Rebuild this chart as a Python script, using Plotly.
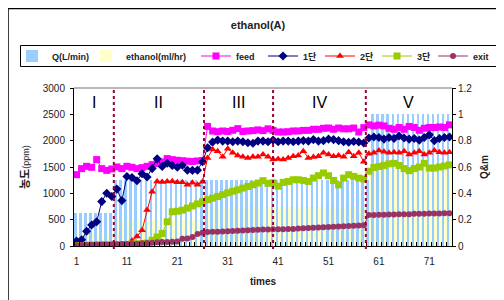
import plotly.graph_objects as go

# ---------------- data ----------------
times = list(range(1, 76))

q_lpm = [0.25, 0.25, 0.25, 0.25, 0.25, 0.25, 0.25, 0.25,
         0.5, 0.5, 0.5, 0.5, 0.5, 0.5, 0.5, 0.5, 0.5, 0.5,
         0.5, 0.5, 0.5, 0.5, 0.5, 0.5, 0.5, 0.5, 0.5, 0.5,
         0.5, 0.5, 0.5, 0.5, 0.5, 0.5, 0.5, 0.5, 0.5, 0.5,
         0.5, 0.5, 0.5, 0.5, 0.5, 0.5, 0.5, 0.5, 0.5, 0.5,
         0.5, 0.5, 0.5, 0.5, 0.5, 0.5, 0.5, 0.5, 0.5, 0.5, 0.5,
         1.0, 1.0, 1.0, 1.0, 1.0, 1.0, 1.0, 1.0, 1.0, 1.0,
         1.0, 1.0, 1.0, 1.0, 1.0, 1.0]

ethanol_mlhr = [0.1, 0.1, 0.1, 0.1, 0.1, 0.1, 0.1, 0.1,
                0.2, 0.2, 0.2, 0.2, 0.2, 0.2, 0.2, 0.2, 0.2, 0.2,
                0.2, 0.2, 0.2, 0.2, 0.2, 0.2, 0.2, 0.2,
                0.3, 0.3, 0.3, 0.3, 0.3, 0.3, 0.3, 0.3, 0.3, 0.3,
                0.3, 0.3, 0.3, 0.3, 0.3, 0.3, 0.3, 0.3, 0.3, 0.3,
                0.3, 0.3, 0.3, 0.3, 0.3, 0.3, 0.3, 0.3, 0.3, 0.3,
                0.3, 0.3,
                0.6, 0.6, 0.6, 0.6, 0.6, 0.6, 0.6, 0.6, 0.6, 0.6,
                0.6, 0.6, 0.6, 0.6, 0.6, 0.6, 0.6]

feed = [1354, 1469, 1513, 1494, 1641, 1469, 1436, 1463, 1501, 1469,
        1513, 1494, 1469, 1488, 1513, 1545, 1565, 1597, 1660, 1640,
        1628, 1620, 1610, 1605, 1615, 1625, 2270, 2184, 2171, 2184,
        2175, 2197, 2229, 2175, 2184, 2190, 2205, 2190, 2225, 2195,
        2165, 2165, 2170, 2184, 2184, 2195, 2195, 2216, 2216, 2235,
        2240, 2216, 2240, 2225, 2225, 2240, 2165, 2248, 2300, 2280,
        2295, 2280, 2235, 2216, 2250, 2216, 2270, 2250, 2197, 2235,
        2250, 2250, 2260, 2250, 2300]

stage1 = [96, 120, 280, 400, 460, 843, 1003, 940, 1080, 862,
          1320, 1300, 1240, 1373, 1310, 1470, 1655, 1510, 1570, 1530,
          1494, 1532, 1440, 1436, 1440, 1600, 1865, 1973, 2011, 1992,
          1992, 1980, 1992, 1980, 1960, 1950, 1992, 1992, 1980, 2011,
          1980, 1992, 1992, 1980, 1992, 2000, 1992, 2020, 1992, 2000,
          2030, 2020, 2000, 1980, 1970, 1985, 1975, 1955, 2050, 2070,
          2060, 2030, 2060, 2040, 2090, 2050, 2030, 2040, 2010, 2060,
          2110, 2000, 2040, 2060, 2070]

stage2 = [10, 15, 20, 20, 25, 20, 15, 20, 25, 20,
          30, 100, 180, 300, 684, 1030, 1226, 1215, 1226, 1230,
          1210, 1210, 1162, 1200, 1162, 1220, 1673, 1833, 1800, 1693,
          1846, 1770, 1718, 1693, 1673, 1693, 1693, 1737, 1693, 1641,
          1654, 1641, 1673, 1705, 1718, 1800, 1673, 1690, 1705, 1769,
          1737, 1705, 1718, 1693, 1782, 1705, 1769, 1600, 1750, 1769,
          1813, 1790, 1769, 1780, 1769, 1800, 1737, 1769, 1800, 1737,
          1769, 1813, 1780, 1769, 1780]

stage3 = [10, 10, 15, 15, 20, 20, 20, 25, 25, 25,
          30, 35, 40, 45, 57, 109, 173, 237, 460, 650,
          660, 680, 720, 760, 800, 840, 880, 907, 940, 975,
          1010, 1040, 1067, 1099, 1130, 1162, 1195, 1240, 1190, 1200,
          1135, 1207, 1226, 1258, 1258, 1245, 1226, 1290, 1335, 1386,
          1335, 1245, 1160, 1290, 1354, 1322, 1290, 1271, 1420, 1490,
          1510, 1530, 1560, 1570, 1530, 1470, 1430, 1470, 1500, 1570,
          1480, 1480, 1500, 1520, 1540]

exit_ppm = [15, 18, 20, 22, 25, 28, 30, 30, 35, 38,
            40, 42, 45, 50, 55, 62, 70, 77, 77, 80,
            85, 140, 141, 170, 230, 250, 265, 270, 270, 275,
            280, 285, 290, 295, 300, 305, 310, 315, 315, 320,
            320, 320, 325, 325, 330, 335, 340, 345, 350, 355,
            360, 365, 370, 375, 380, 385, 390, 395, 590, 590,
            595, 595, 600, 600, 605, 605, 605, 610, 610, 610,
            615, 615, 615, 620, 620]

phase_bounds = [8.4, 26.3, 40.0, 58.4]
phase_names = ["I", "II", "III", "IV", "V"]
x_min, x_max = 0.5, 75.5

# ---------------- figure ----------------
FONT = "Liberation Sans, Arial, Noto Sans CJK KR, sans-serif"
OFF = 8                     # page body margin
W, H = 496, 292
# plot area in screen pixels: x 74..452, y 88..246
ML, MR = 74 - OFF, W - (452 - OFF)
MT, MB = 88 - OFF, H - (246 - OFF)
PW, PH = W - ML - MR, H - MT - MB


def sx(p):
    """screen x pixel -> paper x"""
    return (p - OFF - ML) / PW


def sy(p):
    """screen y pixel -> paper y"""
    return (H - MB - (p - OFF)) / PH


fig = go.Figure()

legend_names = ["legend", "legend2", "legend3", "legend4", "legend5", "legend6", "legend7"]
legend_text_x = [52, 126, 236, 303, 360, 417, 473]

fig.add_trace(go.Bar(x=times, y=q_lpm, name="Q(L/min)", yaxis="y", legend=legend_names[0],
                     marker=dict(color="#99CCFF", line=dict(width=0))))
fig.add_trace(go.Bar(x=times, y=ethanol_mlhr, name="ethanol(ml/hr)", yaxis="y",
                     legend=legend_names[1],
                     marker=dict(color="#FFFFCC", line=dict(width=0))))

line_specs = [
    ("feed", feed, "#FF00FF", "square", 7),
    ("1단", stage1, "#000080", "diamond", 7),
    ("2단", stage2, "#FF0000", "triangle-up", 7),
    ("3단", stage3, "#99CC00", "square", 7),
    ("exit", exit_ppm, "#993366", "circle", 6),
]
for k, (name, vals, col, sym, sz) in enumerate(line_specs):
    fig.add_trace(go.Scatter(x=times, y=vals, name=name, yaxis="y2",
                             legend=legend_names[k + 2],
                             mode="lines+markers",
                             line=dict(color=col, width=1),
                             marker=dict(color=col, symbol=sym, size=sz,
                                         line=dict(width=0))))

shapes = []
for b in phase_bounds:
    shapes.append(dict(type="line", xref="x", yref="paper", x0=b, x1=b,
                       y0=sy(249), y1=1, line=dict(color="#990033", width=2, dash="dot"),
                       layer="above"))
# plot area top border
shapes.append(dict(type="line", xref="paper", yref="paper", x0=0, x1=1, y0=1, y1=1,
                   line=dict(color="#A0A0A0", width=1.5)))
# chart area border
shapes.append(dict(type="rect", xref="paper", yref="paper",
                   x0=sx(8), x1=sx(530), y0=sy(330), y1=sy(8.5),
                   line=dict(color="black", width=1.5), fillcolor="rgba(0,0,0,0)"))
# legend border
shapes.append(dict(type="rect", xref="paper", yref="paper",
                   x0=sx(20.5), x1=sx(501.5), y0=sy(66.5), y1=sy(45.5),
                   line=dict(color="black", width=1), fillcolor="rgba(0,0,0,0)"))

edges = [x_min] + phase_bounds + [x_max]
annotations = []
for k, nm in enumerate(phase_names):
    annotations.append(dict(x=(edges[k] + edges[k + 1]) / 2, y=sy(102), xref="x",
                            yref="paper", xanchor="center", yanchor="middle",
                            text=nm, showarrow=False,
                            font=dict(family=FONT, size=16, color="black")))
# axis titles
annotations.append(dict(x=sx(25), y=sy(167), xref="paper", yref="paper", textangle=-90,
                        xanchor="center", yanchor="middle",
                        text="<b>농도</b><span style='font-size:9px'>(ppm)</span>",
                        showarrow=False, font=dict(family=FONT, size=11, color="#222")))
annotations.append(dict(x=sx(484), y=sy(167), xref="paper", yref="paper", textangle=-90,
                        xanchor="center", yanchor="middle",
                        text="<b>Q&m</b>", showarrow=False,
                        font=dict(family=FONT, size=10, color="#222")))
annotations.append(dict(x=sx(263), y=sy(281), xref="paper", yref="paper",
                        xanchor="center", yanchor="middle",
                        text="<b>times</b>", showarrow=False,
                        font=dict(family=FONT, size=10, color="#222")))

legend_common = dict(orientation="h", yanchor="middle", xanchor="left",
                     borderwidth=0, bgcolor="rgba(0,0,0,0)",
                     font=dict(family=FONT, size=9, color="#222", weight="bold"),
                     itemwidth=30, tracegroupgap=0)
legends = {}
for nm, tx in zip(legend_names, legend_text_x):
    legends[nm] = dict(x=sx(tx - 40), y=sy(56), **legend_common)

fig.update_layout(
    width=W, height=H,
    margin=dict(l=ML, r=MR, t=MT, b=MB, autoexpand=False),
    paper_bgcolor="white", plot_bgcolor="white",
    barmode="group", bargap=0, bargroupgap=0,
    font=dict(family=FONT, size=10, color="#222"),
    title=dict(text="<b>ethanol(A)</b>", x=(258 - OFF) / W, xanchor="center",
               y=1 - (25 - OFF) / H, yanchor="middle",
               font=dict(family=FONT, size=11, color="#222")),
    showlegend=True,
    xaxis=dict(range=[x_min, x_max], tickmode="linear", tick0=1, dtick=10,
               ticks="", showline=True, linecolor="black", linewidth=1,
               showgrid=False, zeroline=False, ticklabelstandoff=6,
               tickfont=dict(size=10, color="#222"),
               minor=dict(tick0=0.5, dtick=1, ticks="inside", ticklen=4,
                          tickcolor="black", showgrid=False)),
    yaxis=dict(range=[0, 1.2], dtick=0.2, side="right", showline=True, linecolor="black",
               linewidth=1, ticks="outside", ticklen=3, tickcolor="black",
               showgrid=False, zeroline=False, tickfont=dict(size=10, color="#222")),
    yaxis2=dict(range=[0, 3000], dtick=500, side="left", overlaying="y",
                showline=True, linecolor="black", linewidth=1, ticks="outside",
                ticklen=3, tickcolor="black", showgrid=False, zeroline=False,
                ticklabelstandoff=3, tickfont=dict(size=10, color="#222")),
    shapes=shapes,
    annotations=annotations,
    **legends,
)

fig.write_html("out.html")
